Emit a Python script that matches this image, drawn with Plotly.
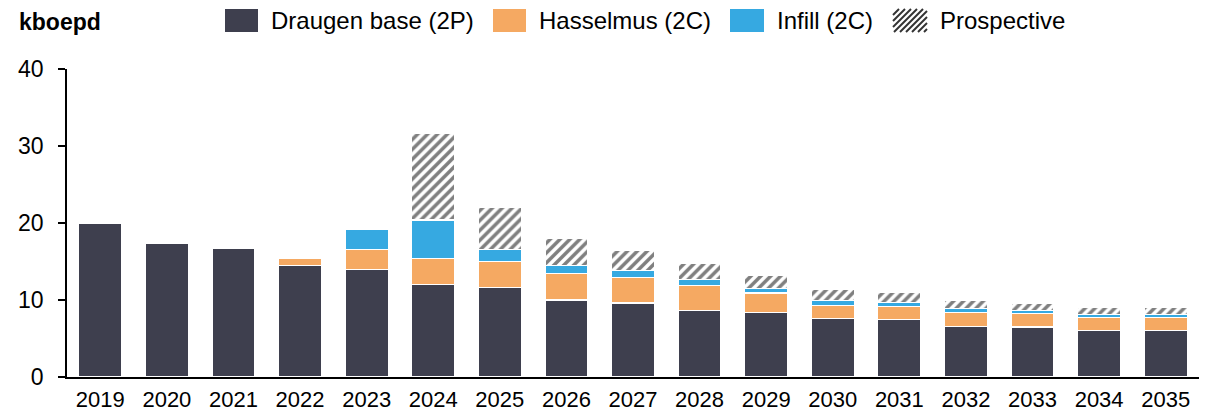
import plotly.graph_objects as go

years = [str(y) for y in range(2019, 2036)]
draugen_base = [19.9, 17.3, 16.7, 14.5, 14.0, 12.0, 11.6, 10.0, 9.6, 8.6, 8.4, 7.6, 7.5, 6.6, 6.5, 6.0, 6.0]
hasselmus = [None, None, None, 0.9, 2.6, 3.4, 3.4, 3.4, 3.3, 3.3, 2.5, 1.7, 1.7, 1.8, 1.7, 1.75, 1.75]
infill = [None, None, None, None, 2.6, 5.0, 1.6, 1.1, 0.9, 0.75, 0.6, 0.6, 0.5, 0.45, 0.45, 0.4, 0.4]
prospective = [None, None, None, None, None, 11.3, 5.4, 3.5, 2.6, 2.15, 1.7, 1.5, 1.35, 1.05, 0.95, 0.85, 0.85]

series_names = ["Draugen base (2P)", "Hasselmus (2C)", "Infill (2C)", "Prospective"]
y_ticks = [0, 10, 20, 30, 40]

C_BASE = "#3e3f4e"
C_HASS = "#f5a962"
C_INF = "#36a9e1"
C_HATCH = "#000000"

FONT = "Liberation Sans, Arial, sans-serif"
W, H = 1214, 412
ML, MR, MT, MB = 67, 15, 69, 35
PW, PH = W - ML - MR, H - MT - MB


def px(x):
    return (x - ML) / PW


def py(y):
    return 1 - (y - MT) / PH


fig = go.Figure()
line = dict(color="white", width=1.2)
fig.add_bar(x=years, y=draugen_base, name=series_names[0], marker=dict(color=C_BASE, line=line))
fig.add_bar(x=years, y=hasselmus, name=series_names[1], marker=dict(color=C_HASS, line=line))
fig.add_bar(x=years, y=infill, name=series_names[2], marker=dict(color=C_INF, line=line))
fig.add_bar(x=years, y=prospective, name=series_names[3],
            marker=dict(color="white", line=line,
                        pattern=dict(shape="/", fgcolor=C_HATCH, bgcolor="white", size=7, solidity=0.5)))

fig.update_layout(
    width=W, height=H,
    barmode="stack", bargap=0.355,
    showlegend=False,
    plot_bgcolor="white", paper_bgcolor="white",
    margin=dict(l=ML, r=MR, t=MT, b=MB, autoexpand=False),
    font=dict(family=FONT, color="black"),
)
fig.update_xaxes(type="category", showline=True, linecolor="black", linewidth=2,
                 ticks="", showgrid=False, tickfont=dict(size=22, family=FONT),
                 ticklabelstandoff=2)
fig.update_yaxes(range=[0, 40], tickvals=y_ticks, showline=True, linecolor="black", linewidth=1.5,
                 ticks="outside", ticklen=7, tickwidth=1.5, tickcolor="black", showgrid=False,
                 zeroline=False, tickfont=dict(size=23, family=FONT), ticklabelstandoff=10)

# unit label
fig.add_annotation(x=px(17), y=py(22), xref="paper", yref="paper", text="<b>kboepd</b>",
                   showarrow=False, xanchor="left", yanchor="middle", font=dict(size=23, family=FONT))

# custom legend
sw_y0, sw_y1 = 9, 32
legend_items = [
    (225, 258, 269, series_names[0], C_BASE),
    (493, 526, 537, series_names[1], C_HASS),
    (730, 764, 775, series_names[2], C_INF),
    (893, 927, 938, series_names[3], None),
]
for x0, x1, tx, label, col in legend_items:
    if col is not None:
        fig.add_shape(type="rect", xref="paper", yref="paper", x0=px(x0), x1=px(x1),
                      y0=py(sw_y1), y1=py(sw_y0), fillcolor=col, line=dict(width=0))
    else:
        # hatched swatch: diagonal "/" strokes clipped to the box
        step = 6
        c = x0 + sw_y0
        while c < x1 + sw_y1:
            c += step
            xa = max(x0, c - sw_y1)
            xb = min(x1, c - sw_y0)
            if xb - xa < 1:
                continue
            fig.add_shape(type="line", xref="paper", yref="paper",
                          x0=px(xa), y0=py(c - xa), x1=px(xb), y1=py(c - xb),
                          line=dict(color="#333333", width=2))
    fig.add_annotation(x=px(tx), y=py(21), xref="paper", yref="paper", text=label,
                       showarrow=False, xanchor="left", yanchor="middle",
                       font=dict(size=24, family=FONT, color="black"))

fig.write_html("out.html", config={"displayModeBar": False},
               post_script="document.body.style.margin='0';document.body.style.overflow='hidden';")
